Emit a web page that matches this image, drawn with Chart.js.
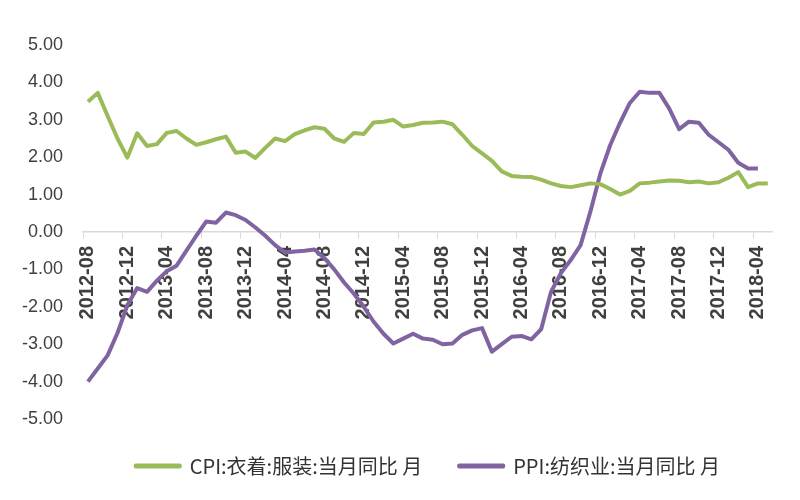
<!DOCTYPE html>
<html>
<head>
<meta charset="utf-8">
<script src="https://cdn.jsdelivr.net/npm/chart.js@4.4.0/dist/chart.umd.min.js"></script>
<style>
html,body{margin:0;padding:0;background:#ffffff;}
#c{display:block;}
</style>
</head>
<body>
<canvas id="c" width="800" height="500"></canvas>
<script>
const months = [
  '2012-08','2012-09','2012-10','2012-11','2012-12',
  '2013-01','2013-02','2013-03','2013-04','2013-05','2013-06','2013-07','2013-08','2013-09','2013-10','2013-11','2013-12',
  '2014-01','2014-02','2014-03','2014-04','2014-05','2014-06','2014-07','2014-08','2014-09','2014-10','2014-11','2014-12',
  '2015-01','2015-02','2015-03','2015-04','2015-05','2015-06','2015-07','2015-08','2015-09','2015-10','2015-11','2015-12',
  '2016-01','2016-02','2016-03','2016-04','2016-05','2016-06','2016-07','2016-08','2016-09','2016-10','2016-11','2016-12',
  '2017-01','2017-02','2017-03','2017-04','2017-05','2017-06','2017-07','2017-08','2017-09','2017-10','2017-11','2017-12',
  '2018-01','2018-02','2018-03','2018-04','2018-05'
];

const cpiLabel = 'CPI:衣着:服装:当月同比 月';
const ppiLabel = 'PPI:纺织业:当月同比 月';

const cpiValues = [
  3.48, 3.72, 3.10, 2.50, 1.99,
  2.64, 2.30, 2.35, 2.65, 2.70, 2.50, 2.33, 2.40, 2.48, 2.55, 2.12, 2.15,
  1.98, 2.25, 2.50, 2.43, 2.62, 2.72, 2.80, 2.76, 2.50, 2.41, 2.65, 2.62,
  2.93, 2.95, 3.00, 2.82, 2.86, 2.92, 2.93, 2.95, 2.88, 2.60, 2.30, 2.10,
  1.90, 1.62, 1.50, 1.48, 1.47, 1.40, 1.30, 1.23, 1.20, 1.25, 1.30, 1.28,
  1.15, 1.00, 1.10, 1.30, 1.32, 1.35, 1.38, 1.37, 1.33, 1.35, 1.30, 1.33,
  1.45, 1.60, 1.20, 1.30, 1.30, 1.30
];

const ppiValues = [
  -4.00, -3.65, -3.30, -2.70, -1.96,
  -1.50, -1.60, -1.30, -1.05, -0.90, -0.50, -0.10, 0.28, 0.25, 0.52, 0.45, 0.32,
  0.12, -0.10, -0.35, -0.55, -0.52, -0.50, -0.47, -0.70, -1.00, -1.35, -1.65, -2.00,
  -2.40, -2.72, -2.98, -2.85, -2.72, -2.85, -2.88, -3.00, -2.98, -2.75, -2.63, -2.57,
  -3.20, -3.00, -2.80, -2.78, -2.87, -2.60, -1.60, -1.10, -0.75, -0.35, 0.55, 1.56,
  2.32, 2.92, 3.45, 3.75, 3.72, 3.72, 3.30, 2.75, 2.95, 2.92, 2.60, 2.40,
  2.20, 1.85, 1.70, 1.70, null
];

const yTicks = [5, 4, 3, 2, 1, 0, -1, -2, -3, -4, -5];

const cpiColor = '#9BBB59';
const ppiColor = '#8064A2';
const textColor = '#404040';

new Chart(document.getElementById('c'), {
  type: 'line',
  data: {
    labels: months,
    datasets: [
      { label: cpiLabel, data: cpiValues, borderColor: cpiColor, backgroundColor: cpiColor,
        borderWidth: 4, pointRadius: 0, tension: 0, borderJoinStyle: 'round' },
      { label: ppiLabel, data: ppiValues, borderColor: ppiColor, backgroundColor: ppiColor,
        borderWidth: 4, pointRadius: 0, tension: 0, borderJoinStyle: 'round' }
    ]
  },
  options: {
    responsive: false,
    animation: false,
    layout: { padding: { top: 45, left: 15, right: 20, bottom: 14 } },
    scales: {
      x: {
        type: 'category',
        offset: true,
        position: { y: 0 },
        afterFit: function (s) { s.height = 0; },
        border: { display: true, color: '#d9d9d9', width: 1.5 },
        grid: {
          offset: true,
          drawOnChartArea: false,
          drawTicks: true,
          tickLength: 6,
          color: function (c) { return c.index % 4 === 0 ? '#d9d9d9' : 'rgba(0,0,0,0)'; }
        },
        ticks: {
          autoSkip: false,
          minRotation: 90,
          maxRotation: 90,
          padding: 8,
          color: textColor,
          font: { family: 'Liberation Sans', size: 20, weight: 'bold' },
          callback: function (v, i) { return i % 4 === 0 ? months[i] : ''; }
        }
      },
      y: {
        min: -5,
        max: 5,
        afterFit: function (s) { s.width = 68; },
        afterBuildTicks: function (s) { s.ticks = yTicks.map(v => ({ value: v })); },
        border: { display: false },
        grid: { display: false, drawTicks: false },
        ticks: {
          padding: 20,
          color: textColor,
          font: { family: 'Liberation Sans', size: 18 },
          callback: function (v) { return Number(v).toFixed(2); }
        }
      }
    },
    plugins: {
      legend: {
        position: 'bottom',
        fullSize: false,
        labels: {
          boxWidth: 44,
          boxHeight: 1,
          padding: 37,
          color: '#333333',
          font: { family: "'Noto Sans CJK SC', sans-serif", size: 20 }
        }
      },
      tooltip: { enabled: false }
    }
  }
});
</script>
</body>
</html>
